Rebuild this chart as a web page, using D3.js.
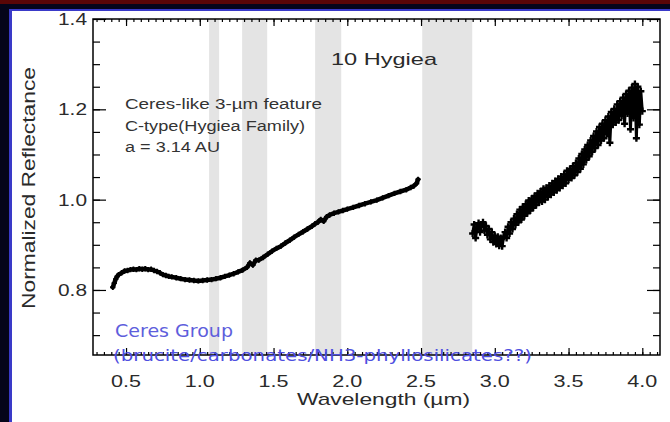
<html>
  <head>
    <script src='https://d3js.org/d3.v7.min.js'></script>
    <style>
      body { margin: 0; background: #05051a; }
      text { font-family: 'Liberation Sans', Arial, sans-serif; }
    </style>
  </head>
  <body>
    <svg width=670 height=422></svg>
    <script>
      // 10 Hygiea reflectance spectrum
      const VNIR_WAVE = [0.41,0.42,0.43,0.44,0.45,0.47,0.49,0.51,0.53,0.55,0.57,0.59,0.61,0.63,0.65,0.67,0.69,0.71,0.73,0.75,0.77,0.79,0.81,0.84,0.87,0.90,0.93,0.96,0.99,1.02,1.05,1.08,1.11,1.14,1.17,1.20,1.23,1.26,1.29,1.32,1.34,1.36,1.38,1.40,1.43,1.46,1.49,1.52,1.55,1.58,1.61,1.64,1.67,1.70,1.73,1.76,1.78,1.80,1.82,1.84,1.86,1.88,1.91,1.94,1.97,2.00,2.04,2.08,2.12,2.16,2.20,2.24,2.28,2.32,2.36,2.40,2.43,2.45,2.47,2.48];
      const VNIR_REFL = [0.806,0.815,0.824,0.830,0.834,0.838,0.842,0.843,0.845,0.846,0.845,0.847,0.846,0.847,0.845,0.846,0.843,0.841,0.838,0.834,0.832,0.830,0.829,0.827,0.825,0.823,0.822,0.821,0.820,0.821,0.822,0.823,0.825,0.827,0.830,0.833,0.836,0.840,0.844,0.850,0.860,0.855,0.866,0.866,0.872,0.879,0.886,0.892,0.897,0.904,0.910,0.917,0.923,0.929,0.935,0.941,0.946,0.950,0.956,0.952,0.962,0.966,0.970,0.973,0.976,0.979,0.983,0.987,0.991,0.995,0.999,1.004,1.009,1.014,1.018,1.022,1.027,1.030,1.036,1.045];

      const L_WAVE = [2.85,2.86,2.87,2.88,2.89,2.90,2.91,2.92,2.93,2.94,2.95,2.96,2.97,2.98,2.99,3.00,3.01,3.02,3.03,3.04,3.05,3.06,3.07,3.08,3.09,3.10,3.11,3.12,3.13,3.14,3.15,3.16,3.17,3.18,3.19,3.20,3.21,3.22,3.23,3.24,3.25,3.26,3.27,3.28,3.29,3.30,3.31,3.32,3.33,3.34,3.35,3.36,3.37,3.38,3.39,3.40,3.41,3.42,3.43,3.44,3.45,3.46,3.47,3.48,3.49,3.50,3.51,3.52,3.53,3.54,3.55,3.56,3.57,3.58,3.59,3.60,3.61,3.62,3.63,3.64,3.65,3.66,3.67,3.68,3.69,3.70,3.71,3.72,3.73,3.74,3.75,3.76,3.77,3.78,3.79,3.80,3.81,3.82,3.83,3.84,3.85,3.86,3.87,3.88,3.89,3.90,3.91,3.92,3.93,3.94,3.95,3.96,3.97,3.98,3.99,4.00];
      const L_REFL = [0.925,0.945,0.915,0.938,0.948,0.928,0.945,0.950,0.932,0.942,0.922,0.935,0.912,0.928,0.906,0.920,0.902,0.918,0.898,0.915,0.897,0.918,0.928,0.915,0.940,0.925,0.950,0.935,0.958,0.944,0.968,0.950,0.978,0.956,0.984,0.964,0.990,0.970,0.998,0.976,1.002,0.982,1.008,0.988,1.014,0.994,1.018,0.996,1.024,1.000,1.026,1.006,1.031,1.011,1.036,1.016,1.041,1.021,1.046,1.026,1.051,1.031,1.056,1.036,1.064,1.044,1.068,1.048,1.074,1.054,1.081,1.061,1.091,1.068,1.101,1.078,1.111,1.088,1.121,1.096,1.131,1.106,1.141,1.114,1.151,1.121,1.161,1.131,1.168,1.136,1.176,1.146,1.184,1.126,1.194,1.166,1.201,1.171,1.211,1.176,1.218,1.186,1.226,1.168,1.234,1.191,1.241,1.156,1.248,1.181,1.256,1.136,1.250,1.166,1.240,1.196];

      // telluric bands (um)
      const BAND_START = [1.063, 1.287, 1.782, 2.508];
      const BAND_END = [1.131, 1.457, 1.959, 2.847];

      const X_MAJOR = [0.5, 1.0, 1.5, 2.0, 2.5, 3.0, 3.5, 4.0];
      const Y_MAJOR = [0.8, 1.0, 1.2, 1.4];
      const X_MINOR = d3.range(6, 83).map(d => d * 0.05);
      const Y_MINOR = d3.range(14, 28).map(d => d * 0.05);

      const NOTES = ['Ceres-like 3-\u00b5m feature', 'C-type(Hygiea Family)', 'a = 3.14 AU'];
      const NOTE_LEN = [197, 180, 95];

      const svg = d3.select('svg');

      const x = d3.scaleLinear().domain([0.276, 4.12]).range([93, 660]);
      const y = d3.scaleLinear().domain([0.656, 1.4]).range([355, 19]);

      // frame
      svg.append('rect').attr('x', 0).attr('y', 0).attr('width', 670).attr('height', 4).attr('fill', '#5a0606');
      svg.append('rect').attr('x', 9).attr('y', 9).attr('width', 661).attr('height', 413).attr('fill', '#3a3ac8');
      svg.append('rect').attr('x', 12).attr('y', 11).attr('width', 658).attr('height', 411).attr('fill', '#ffffff');

      // bands
      svg.append('g').selectAll('rect').data(BAND_START).enter().append('rect')
        .attr('x', d => x(d)).attr('y', y(1.4))
        .attr('width', (d, i) => x(BAND_END[i]) - x(d))
        .attr('height', y(0.656) - y(1.4))
        .attr('fill', '#e4e4e4');

      // axes, ticks pointing in
      function ticks(axis, vals, size, tr) {
        const g = svg.append('g').attr('transform', tr)
          .call(axis.tickValues(vals).tickSize(-size).tickFormat(''));
        g.select('.domain').remove();
        g.selectAll('line').attr('stroke', '#000').attr('stroke-width', 1.2);
        return g;
      }
      ticks(d3.axisBottom(x), X_MINOR, 3, 'translate(0,355)');
      ticks(d3.axisTop(x), X_MINOR, 3, 'translate(0,19)');
      ticks(d3.axisBottom(x), X_MAJOR, 7, 'translate(0,355)');
      ticks(d3.axisTop(x), X_MAJOR, 7, 'translate(0,19)');
      ticks(d3.axisLeft(y), Y_MINOR, 7, 'translate(93,0)');
      ticks(d3.axisRight(y), Y_MINOR, 7, 'translate(660,0)');
      ticks(d3.axisLeft(y), Y_MAJOR, 13, 'translate(93,0)');
      ticks(d3.axisRight(y), Y_MAJOR, 13, 'translate(660,0)');

      svg.append('rect').attr('x', 93).attr('y', 19).attr('width', 567).attr('height', 336)
        .attr('fill', 'none').attr('stroke', '#000').attr('stroke-width', 1.5);

      // tick labels
      svg.append('g').selectAll('text').data(X_MAJOR).enter().append('text')
        .attr('x', d => x(d)).attr('y', 387).attr('text-anchor', 'middle')
        .attr('font-size', 17).attr('fill', '#2a2a2a')
        .attr('textLength', 30).attr('lengthAdjust', 'spacingAndGlyphs')
        .text(d => d.toFixed(1));
      svg.append('g').selectAll('text').data(Y_MAJOR).enter().append('text')
        .attr('x', 58).attr('y', d => y(d) + 6)
        .attr('font-size', 17).attr('fill', '#2a2a2a')
        .attr('textLength', 29).attr('lengthAdjust', 'spacingAndGlyphs')
        .text(d => d.toFixed(1));

      // axis titles
      svg.append('text').attr('x', 297).attr('y', 405).attr('font-size', 17).attr('fill', '#2a2a2a')
        .attr('textLength', 173).attr('lengthAdjust', 'spacingAndGlyphs')
        .text('Wavelength (\u00b5m)');
      svg.append('text').attr('transform', 'translate(35,309) rotate(-90)')
        .attr('font-size', 18).attr('fill', '#2a2a2a')
        .attr('textLength', 242).attr('lengthAdjust', 'spacingAndGlyphs')
        .text('Normalized Reflectance');

      // data
      const line = d3.line().x(d => x(d[0])).y(d => y(d[1]));
      const vnir = VNIR_WAVE.map((w, i) => [w, VNIR_REFL[i]]);
      const lband = L_WAVE.map((w, i) => [w, L_REFL[i]]);

      svg.append('path').datum(vnir).attr('d', line)
        .attr('fill', 'none').attr('stroke', '#000').attr('stroke-width', 4.5)
        .attr('stroke-linejoin', 'round').attr('stroke-linecap', 'round');
      svg.append('g').selectAll('path').data(vnir).enter().append('path')
        .attr('d', d3.symbol().type(d3.symbolCross).size(16))
        .attr('transform', d => `translate(${x(d[0])},${y(d[1])})`)
        .attr('fill', '#000');

      svg.append('path').datum(lband).attr('d', line)
        .attr('fill', 'none').attr('stroke', '#000').attr('stroke-width', 3)
        .attr('stroke-linejoin', 'round');
      svg.append('g').selectAll('path').data(lband).enter().append('path')
        .attr('d', d3.symbol().type(d3.symbolCross).size(28))
        .attr('transform', d => `translate(${x(d[0])},${y(d[1])})`)
        .attr('fill', '#000');

      // labels inside plot
      svg.append('text').attr('x', 331).attr('y', 65).attr('font-size', 17).attr('fill', '#2a2a2a')
        .attr('textLength', 106).attr('lengthAdjust', 'spacingAndGlyphs')
        .text('10 Hygiea');
      svg.append('g').selectAll('text').data(NOTES).enter().append('text')
        .attr('x', 125).attr('y', (d, i) => 109 + i * 21.5)
        .attr('font-size', 14).attr('fill', '#333')
        .attr('textLength', (d, i) => NOTE_LEN[i]).attr('lengthAdjust', 'spacingAndGlyphs')
        .text(d => d);

      svg.append('text').attr('x', 115).attr('y', 337)
        .style('font-family', "'DejaVu Sans', sans-serif")
        .attr('font-size', 17).attr('fill', '#5e5edc')
        .attr('textLength', 118).attr('lengthAdjust', 'spacingAndGlyphs')
        .text('Ceres Group');
      svg.append('text').attr('x', 113).attr('y', 361)
        .style('font-family', "'DejaVu Sans', sans-serif")
        .attr('font-size', 16).attr('fill', '#4e4ee0')
        .attr('textLength', 419).attr('lengthAdjust', 'spacingAndGlyphs')
        .text('(brucite/carbonates/NH3-phyllosilicates??)');
    </script>
  </body>
</html>
